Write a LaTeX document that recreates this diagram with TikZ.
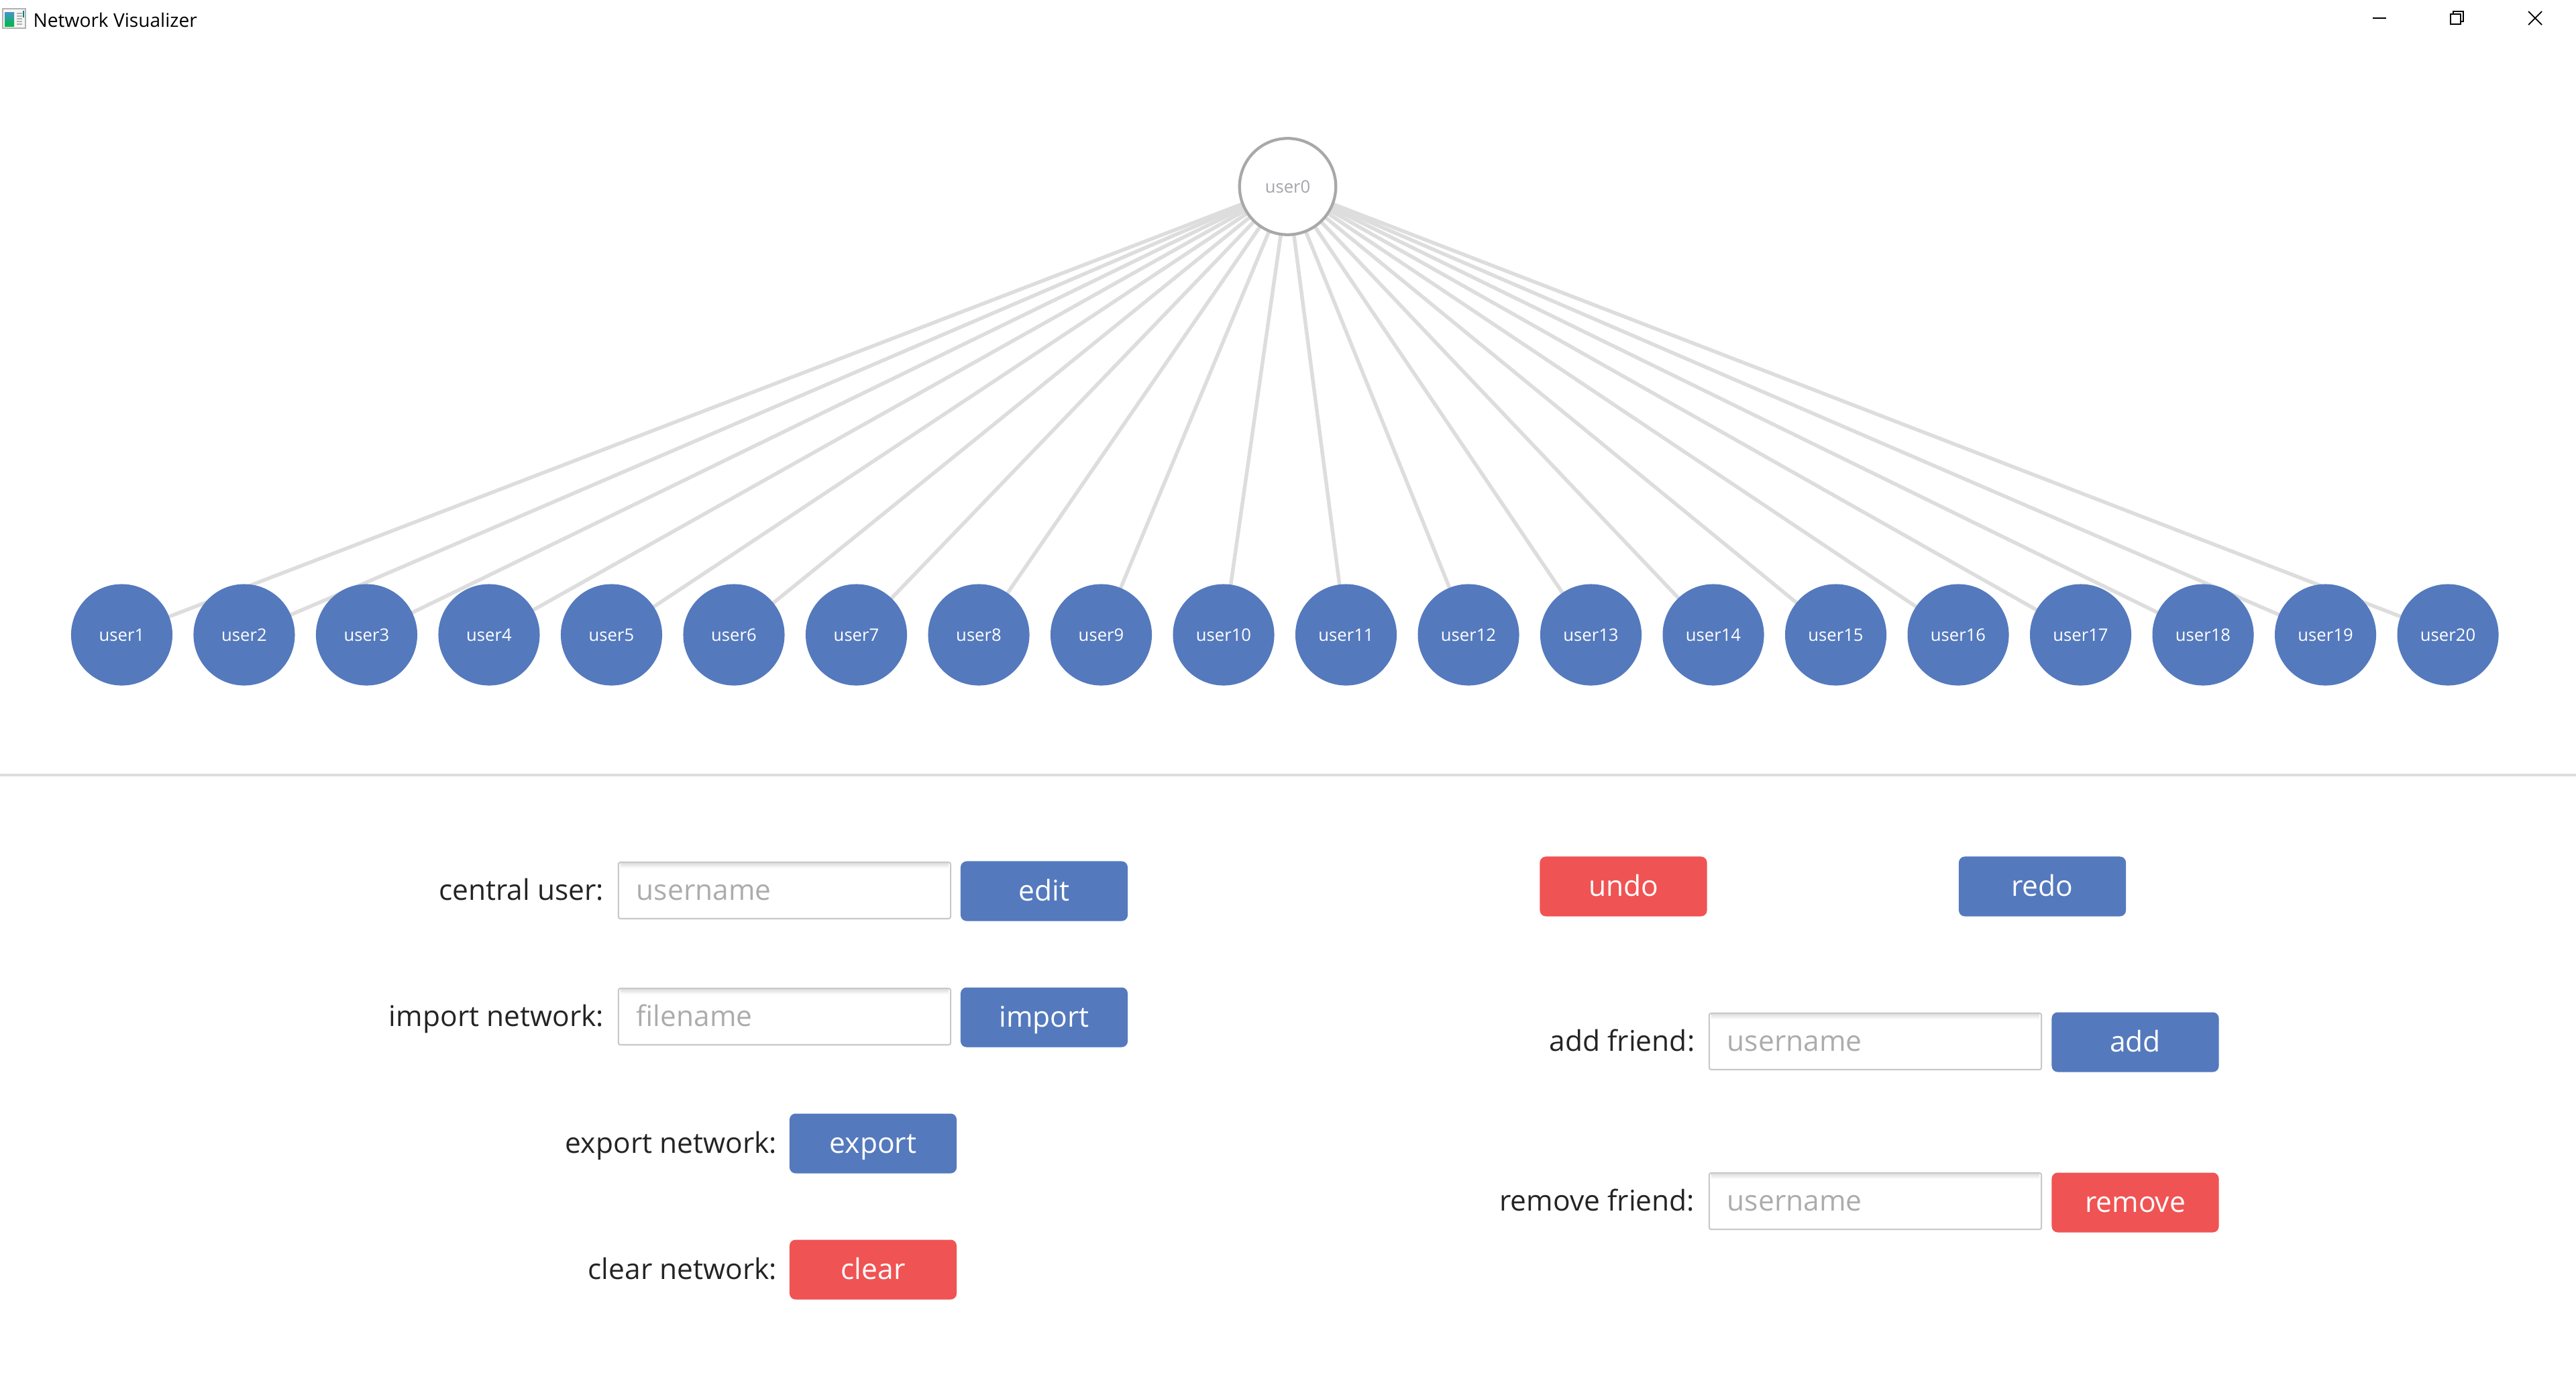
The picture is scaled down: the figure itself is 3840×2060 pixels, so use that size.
\documentclass[tikz,border=0pt]{standalone}
\usepackage{fontspec}
\setmainfont{Open Sans}
\usetikzlibrary{calc,backgrounds}
\definecolor{ublue}{RGB}{84,121,189}
\definecolor{ured}{RGB}{240,83,83}
\definecolor{edgegray}{RGB}{221,221,221}
\definecolor{hubgray}{RGB}{168,168,168}
\definecolor{hubtext}{RGB}{165,165,170}
\definecolor{lbltext}{RGB}{36,36,36}
\definecolor{phtext}{RGB}{172,172,172}
\definecolor{fieldborder}{RGB}{200,200,200}
\begin{document}
\begin{tikzpicture}[x=0.01cm,y=-0.01cm,
  user/.style={circle, fill=ublue, minimum size=1.51cm, inner sep=0pt, outer sep=0pt,
    text=white, font=\fontsize{7.3}{8}\selectfont, text height=0.19cm, text depth=0pt},
  hub/.style={circle, fill=white, draw=hubgray, line width=1.22pt, minimum size=1.434cm,
    inner sep=0pt, outer sep=0pt, text=hubtext, font=\fontsize{7.3}{8}\selectfont,
    text height=0.19cm, text depth=0pt},
  edge/.style={draw=edgegray, line width=1.56pt},
  lbl/.style={anchor=east, inner sep=0pt, text=lbltext, font=\fontsize{12.1}{14}\selectfont,
    text height=0.28cm, text depth=0pt},
  ph/.style={anchor=west, inner sep=0pt, text=phtext, font=\fontsize{12.1}{14}\selectfont,
    text height=0.28cm, text depth=0pt},
  field/.style={draw=fieldborder, fill=white, line width=0.6pt, rounded corners=0.03cm,
    minimum width=4.95cm, minimum height=0.84cm, inner sep=0pt, outer sep=0pt},
  btn/.style={rounded corners=0.09cm, minimum width=2.49cm, minimum height=0.89cm,
    inner sep=0pt, outer sep=0pt, text=white, font=\fontsize{12.1}{14}\selectfont,
    text height=0.28cm, text depth=0pt},
  bluebtn/.style={btn, fill=ublue},
  redbtn/.style={btn, fill=ured},
  fshadow/.style={top color=black!13, bottom color=white, draw=none},
  winctl/.style={draw=black, line width=0.5pt}
]
\begin{pgfonlayer}{background}
\fill[white] (0,0) rectangle (3840,2060);
\end{pgfonlayer}
\useasboundingbox (0,0) rectangle (3840,2060);

% title bar
\draw[fill=gray!8, draw=gray!60, line width=0.4pt] (4,13) rectangle (38,42);
\shade[top color=ublue!80!cyan, bottom color=green!45!teal] (7,18) rectangle (21,39);
\foreach \yy in {20,24,28,32,36} \draw[gray!60, line width=0.4pt] (25,\yy) -- (33,\yy);
\fill[teal] (34,16) rectangle (36,26);
\node[anchor=base west, inner sep=0pt, font=\fontsize{8}{9}\selectfont] (title) at (49,40) {Network Visualizer};
\draw[winctl] (3537,27) -- (3557,27);
\draw[winctl] (3653,21) rectangle (3668,36);
\draw[winctl] (3657,21) -- (3657,17) -- (3672,17) -- (3672,32) -- (3668,32);
\draw[winctl] (3769,17) -- (3789,37);
\draw[winctl] (3769,37) -- (3789,17);

% network
\node[hub] (u0) at (1919.5,278) {user0};
\foreach \i in {1,...,20}
  \node[user] (u\i) at ({181.5+(\i-1)*182.5},946) {user\i};
\begin{pgfonlayer}{background}
\foreach \i in {1,...,20}
  \draw[edge] (u0) -- (u\i.center);
\end{pgfonlayer}

% separator
\draw[edgegray, line width=1.35pt] (0,1155) -- (3840,1155);

% left form
\node[lbl] (l1) at (901,1327) {central user:};
\node[field] (f1) at (1169.5,1327) {};
\shade[fshadow] ($(f1.north west)+(3,1)$) rectangle ($(f1.north east)+(-3,9)$);
\node[ph] (p1) at (948,1327) {username};
\node[bluebtn] (b1) at (1556.5,1328) {edit};

\node[lbl] (l2) at (901,1515) {import network:};
\node[field] (f2) at (1169.5,1515) {};
\shade[fshadow] ($(f2.north west)+(3,1)$) rectangle ($(f2.north east)+(-3,9)$);
\node[ph] (p2) at (948,1515) {filename};
\node[bluebtn] (b2) at (1556.5,1516) {import};

\node[lbl] (l3) at (1159,1704) {export network:};
\node[bluebtn] (b3) at (1301.5,1704) {export};

\node[lbl] (l4) at (1159,1892) {clear network:};
\node[redbtn] (b4) at (1301.5,1892) {clear};

% right form
\node[redbtn] (b5) at (2420,1321) {undo};
\node[bluebtn] (b6) at (3044.5,1321) {redo};

\node[lbl] (l7) at (2527,1552) {add friend:};
\node[field] (f7) at (2795.5,1552) {};
\shade[fshadow] ($(f7.north west)+(3,1)$) rectangle ($(f7.north east)+(-3,9)$);
\node[ph] (p7) at (2574,1552) {username};
\node[bluebtn] (b7) at (3183,1553) {add};

\node[lbl] (l8) at (2527,1790) {remove friend:};
\node[field] (f8) at (2795.5,1790) {};
\shade[fshadow] ($(f8.north west)+(3,1)$) rectangle ($(f8.north east)+(-3,9)$);
\node[ph] (p8) at (2574,1790) {username};
\node[redbtn] (b8) at (3183,1792) {remove};
\end{tikzpicture}
\end{document}
